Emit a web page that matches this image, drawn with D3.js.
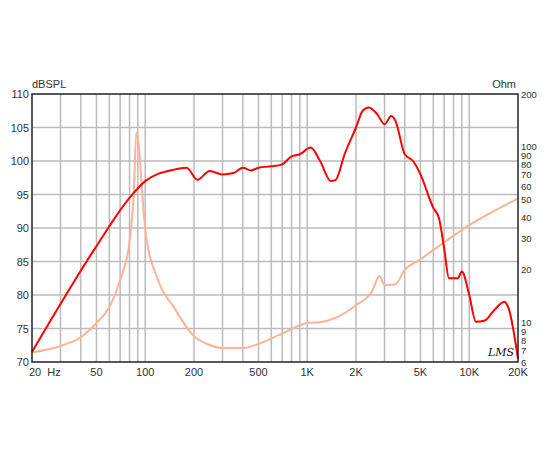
<!DOCTYPE html>
<html><head><meta charset="utf-8">
<script src="https://cdn.jsdelivr.net/npm/d3@7"></script>
<style>body{margin:0;background:#fff}text{font-family:Arial,"Liberation Sans",sans-serif;font-size:11px;fill:#333}</style>
</head><body><svg id="c" width="550" height="450"></svg>
<script>
// frequency response (Hz, dBSPL)
var splFreq = [20,50,80,100,150,180,210,250,300,350,400,450,500,600,700,800,900,1050,1200,1400,1500,1700,2000,2200,2400,2700,3000,3300,3500,4000,4500,5000,6000,6500,7000,7500,8500,9000,10000,11000,12500,14000,16500,17500,20000]
var splDb = [71.5,87.3,94.5,97,98.7,99,97.2,98.5,98,98.2,99,98.6,99,99.2,99.5,100.7,101,102,100,97,97.2,101,105,107.5,108,107,105.5,106.7,106,101,100,98,93,91.5,87,82.5,82.5,83.5,80,76,76.2,77.5,79,78,70.5]
// impedance (Hz, Ohm)
var zFreq = [20,30,40,50,60,70,80,85,88,92,95,100,120,150,200,250,300,400,500,700,1000,1200,1500,2000,2500,2800,3000,3500,4000,5000,10000,20000]
var zOhm = [6.8,7.4,8.3,10,12.3,17.5,29,55,120,95,61,34,17.5,12.3,8.4,7.5,7.2,7.2,7.6,8.7,10,10.1,10.7,12.6,15,18.5,16.4,16.6,20,23,36,51]
var freqTicks = [20,50,100,200,500,1000,2000,5000,10000,20000]
var freqLabels = ['20  Hz','50','100','200','500','1K','2K','5K','10K','20K']
var dbTicks = [70,75,80,85,90,95,100,105,110]
var ohmTicks = [6,7,8,9,10,20,30,40,50,60,70,80,90,100,200]

var svg = d3.select('#c')
var L = 32, R = 518, T = 94, B = 362
var x = d3.scaleLog().domain([20,20000]).range([L,R])
var y = d3.scaleLinear().domain([70,110]).range([B,T])
var yz = d3.scaleLog().domain([6,200]).range([B,T])

var grid = []
;[10,100,1000,10000].forEach(function(d){for(var k=1;k<10;k++){var f=d*k;if(f>20&&f<20000)grid.push(f)}})
svg.selectAll('.vg').data(grid).enter().append('line')
  .attr('x1',x).attr('x2',x).attr('y1',T).attr('y2',B).attr('stroke','#bbb').attr('stroke-width',1.5)
svg.selectAll('.hg').data(dbTicks.slice(1,-1)).enter().append('line')
  .attr('x1',L).attr('x2',R).attr('y1',y).attr('y2',y).attr('stroke','#bbb').attr('stroke-width',1.5)

var line = d3.line().curve(d3.curveMonotoneX)
svg.append('path').attr('d',line(zFreq.map(function(f,i){return [x(f),yz(zOhm[i])]})))
  .attr('fill','none').attr('stroke','#fbb499').attr('stroke-width',2)
svg.append('path').attr('d',line(splFreq.map(function(f,i){return [x(f),y(splDb[i])]})))
  .attr('fill','none').attr('stroke','#f00').attr('stroke-width',2)

svg.append('rect').attr('x',L).attr('y',T).attr('width',R-L).attr('height',B-T)
  .attr('fill','none').attr('stroke','#222').attr('stroke-width',1.5)

svg.selectAll('.yl').data(dbTicks).enter().append('text')
  .attr('x',L-3).attr('y',function(d){return y(d)+4}).attr('text-anchor','end').text(function(d){return d})
svg.selectAll('.zl').data(ohmTicks).enter().append('text')
  .attr('x',R+3).attr('y',function(d){return yz(d)+3.5}).style('font-size','9.5px').text(function(d){return d})
svg.selectAll('.xl').data(freqTicks).enter().append('text')
  .attr('x',function(d){return d==20?L-3:x(d)}).attr('y',B+14)
  .attr('text-anchor',function(d){return d==20?'start':'middle'})
  .text(function(d,i){return freqLabels[i]}).style('white-space','pre').attr('xml:space','preserve')
svg.append('text').attr('x',L).attr('y',T-6).text('dBSPL')
svg.append('text').attr('x',R-2).attr('y',T-6).attr('text-anchor','end').text('Ohm')
svg.append('text').attr('x',488).attr('y',B-6).attr('font-style','italic')
  .style('font-family','"DejaVu Serif",serif').style('font-size','11px').style('fill','#111').text('LMS')
</script></body></html>
